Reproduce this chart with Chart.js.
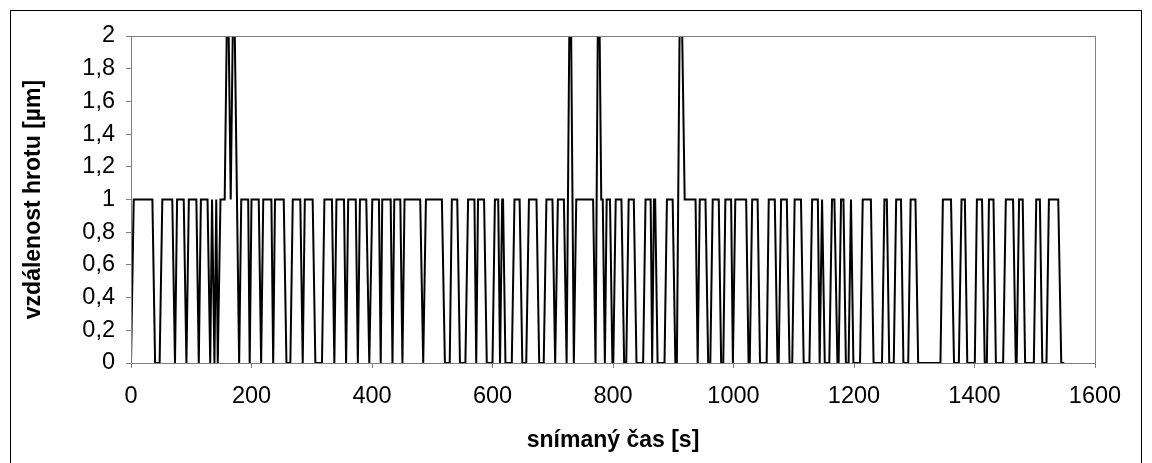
<!DOCTYPE html>
<html>
<head>
<meta charset="utf-8">
<title>vzdálenost hrotu</title>
<script src="https://cdn.jsdelivr.net/npm/chart.js@4.4.1/dist/chart.umd.min.js"></script>
<style>
    html, body { margin: 0; padding: 0; background: #fff; }
    #wrap { width: 1152px; height: 463px; }
</style>
</head>
<body>
<div id="wrap"><canvas id="graf" width="1152" height="463"></canvas></div>
<script>
'use strict';

// snímaný čas [s] - vertices of the trace
var casy = [
    0, 4.5, 35.5, 40, 47.5, 52, 68.5, 73, 76.5, 87.5, 92, 96, 108.5, 112.5, 116, 127,
    131.5, 134.5, 138.5, 141.5, 144, 148.5, 155.5, 160.5, 165.5, 170.5, 179.5, 183, 194.5, 197, 200, 212,
    216, 219.5, 233, 236, 239, 253.5, 258, 264.5, 268.5, 281, 285, 288.5, 301.5, 306, 317, 321,
    333.5, 337.5, 341, 353.5, 357, 360.5, 373, 376.5, 380, 390.5, 395.5, 400.5, 411.5, 414.5, 417, 431,
    434, 437, 447, 450.5, 454, 480, 485, 489.5, 516, 521, 529, 532.5, 541.5, 546, 555, 559.5,
    570, 573, 576, 586, 590.5, 600, 604, 609.5, 612.5, 616, 617.5, 621.5, 632, 636.5, 645, 649.5,
    656, 660.5, 673, 677.5, 685, 689.5, 699.5, 704, 708.5, 718.5, 723, 729, 735, 739, 767, 771,
    776, 780.5, 783, 786.5, 789.5, 795, 799, 800.5, 804.5, 814, 818.5, 822, 826, 834.5, 839, 850,
    854, 862.5, 865, 868, 870, 874, 885.5, 889.5, 899, 903.5, 906, 912, 919, 937, 940.5, 944,
    953.5, 958, 961.5, 965.5, 975.5, 979.5, 983, 986.5, 996, 999, 1003, 1021, 1025, 1027, 1031, 1040,
    1044, 1055, 1058.5, 1068.5, 1073, 1075, 1079, 1088.5, 1093, 1097.5, 1101.5, 1112, 1116.5, 1126, 1130.5, 1140,
    1143, 1147, 1151.5, 1159, 1163.5, 1167.5, 1172.5, 1174.5, 1178.5, 1182.5, 1186.5, 1191, 1195, 1199, 1210, 1214.5,
    1228, 1232.5, 1246.5, 1250.5, 1254.5, 1258.5, 1266, 1270, 1278, 1282, 1290, 1294, 1302, 1306.5, 1343.5, 1347.5,
    1361, 1366, 1374, 1378.5, 1384, 1388, 1400.5, 1404, 1412.5, 1417, 1420.5, 1424, 1431.5, 1435.5, 1447.5, 1452,
    1464, 1468.5, 1470, 1474, 1480, 1484, 1498.5, 1502.5, 1508.5, 1512.5, 1519.5, 1523.5, 1539, 1544, 1549
];

// vzdálenost hrotu [µm] at each vertex
var vzdalenost = [
    0, 1, 1, 0, 0, 1, 1, 0, 1, 1, 0, 1, 1, 0, 1, 1,
    0, 1, 0, 1, 0, 1, 1, 2.5, 1, 2.5, 0, 1, 1, 0, 1, 1,
    0, 1, 1, 0, 1, 1, 0, 0, 1, 1, 0, 1, 1, 0, 0, 1,
    1, 0, 1, 1, 0, 1, 1, 0, 1, 1, 0, 1, 1, 0, 1, 1,
    0, 1, 1, 0, 1, 1, 0, 1, 1, 0, 0, 1, 1, 0, 0, 1,
    1, 0, 1, 1, 0, 0, 1, 1, 0, 1, 1, 0, 0, 1, 1, 0,
    0, 1, 1, 0, 0, 1, 1, 0, 1, 1, 0, 2.7, 0, 1, 1, 0,
    2.7, 1, 1, 0, 1, 1, 0, 0, 1, 1, 0, 0, 1, 1, 0, 0,
    1, 1, 0, 1, 1, 0, 0, 1, 1, 0, 0, 2.7, 1, 1, 0, 1,
    1, 0, 0, 1, 1, 0, 0, 1, 1, 0, 1, 1, 0, 0, 1, 1,
    0, 0, 1, 1, 0, 0, 1, 1, 0, 0, 1, 1, 0, 0, 1, 1,
    0, 1, 0, 0, 1, 1, 0, 0, 1, 1, 0, 0, 1, 0, 0, 1,
    1, 0, 0, 1, 1, 0, 0, 1, 1, 0, 0, 1, 1, 0, 0, 1,
    1, 0, 0, 1, 1, 0, 0, 1, 1, 0, 0, 1, 1, 0, 0, 1,
    1, 0, 0, 1, 1, 0, 0, 1, 1, 0, 0, 1, 1, 0, 0
];

var xTicks = [0, 200, 400, 600, 800, 1000, 1200, 1400, 1600];
var yTicks = [0, 0.2, 0.4, 0.6, 0.8, 1, 1.2, 1.4, 1.6, 1.8, 2];

var body = casy.map(function (t, i) {
    return { x: t, y: vzdalenost[i] };
});

var pismo = "'Liberation Sans', Arial, sans-serif";
var seda = '#808080';

// white background, outer frame and grey plot area border (Excel look)
var ramecek = {
    id: 'ramecek',
    beforeDraw: function (chart) {
        var ctx = chart.ctx;
        ctx.save();
        ctx.fillStyle = '#ffffff';
        ctx.fillRect(0, 0, chart.width, chart.height);
        ctx.restore();
    },
    afterDraw: function (chart) {
        var ctx = chart.ctx;
        var a = chart.chartArea;
        ctx.save();
        ctx.strokeStyle = seda;
        ctx.lineWidth = 1;
        ctx.strokeRect(a.left + 0.5, a.top + 0.5, a.right - a.left, a.bottom - a.top);
        ctx.strokeStyle = '#000000';
        ctx.strokeRect(10.5, 10.5, 1131, 470);
        ctx.restore();
    }
};

var ctx = document.getElementById('graf').getContext('2d');
var chart = new Chart(ctx, {
    type: 'line',
    data: {
        datasets: [{
            label: 'vzdálenost hrotu',
            data: body,
            borderColor: '#000000',
            borderWidth: 2,
            pointRadius: 0,
            tension: 0,
            fill: false,
            clip: 0
        }]
    },
    options: {
        responsive: false,
        animation: false,
        layout: {
            padding: { top: 36, right: 57, left: 0, bottom: 0 }
        },
        scales: {
            x: {
                type: 'linear',
                min: 0,
                max: 1600,
                afterBuildTicks: function (scale) {
                    scale.ticks = xTicks.map(function (v) { return { value: v }; });
                },
                afterFit: function (scale) {
                    scale.height = 100;
                },
                border: { color: seda, width: 1 },
                grid: { drawOnChartArea: false, color: seda, tickLength: 5 },
                ticks: {
                    color: '#000000',
                    padding: 14,
                    maxRotation: 0,
                    font: { family: pismo, size: 23.5 },
                    callback: function (value) {
                        return String(value);
                    }
                },
                title: {
                    display: true,
                    text: 'snímaný čas [s]',
                    color: '#000000',
                    padding: { top: 0, bottom: 9 },
                    font: { family: pismo, size: 23, weight: 'bold' }
                }
            },
            y: {
                min: 0,
                max: 2,
                afterBuildTicks: function (scale) {
                    scale.ticks = yTicks.map(function (v) { return { value: v }; });
                },
                afterFit: function (scale) {
                    scale.width = 131;
                },
                border: { color: seda, width: 1 },
                grid: { drawOnChartArea: false, color: seda, tickLength: 5 },
                ticks: {
                    color: '#000000',
                    padding: 11,
                    font: { family: pismo, size: 23.5 },
                    callback: function (value) {
                        return String(Math.round(value * 10) / 10).replace('.', ',');
                    }
                },
                title: {
                    display: true,
                    text: 'vzdálenost hrotu [µm]',
                    color: '#000000',
                    padding: { top: 20, bottom: 0 },
                    font: { family: pismo, size: 23, weight: 'bold' }
                }
            }
        },
        plugins: {
            legend: { display: false },
            tooltip: { enabled: false }
        }
    },
    plugins: [ramecek]
});
</script>
</body>
</html>
